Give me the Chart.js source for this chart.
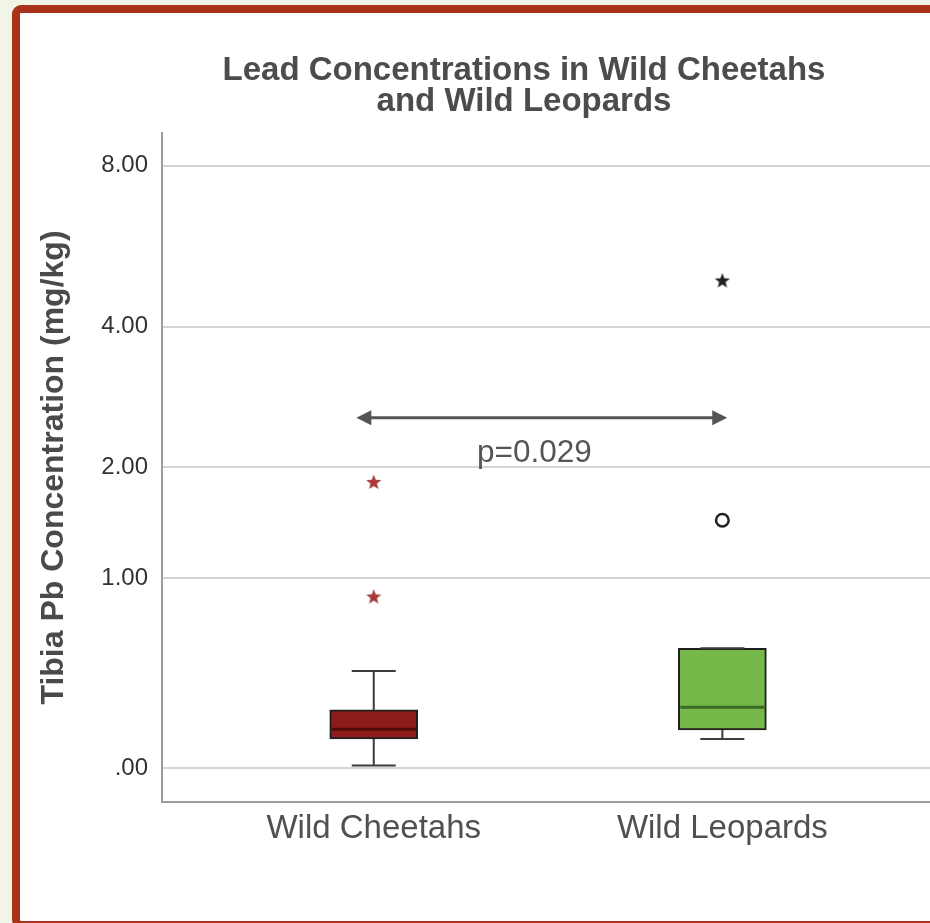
<!DOCTYPE html>
<html lang="en">
<head>
<meta charset="utf-8">
<title>Lead Concentrations in Wild Cheetahs and Wild Leopards</title>
<script src="https://cdn.jsdelivr.net/npm/chart.js@4.4.1/dist/chart.umd.min.js"></script>
<style>
    html, body { margin: 0; padding: 0; overflow: hidden; background: #f3f4e8; }
    #marco { position: absolute; left: 12px; top: 5px; width: 1100px; height: 908px;
             border: 8px solid #a8321a; border-radius: 9px; background: #fff; }
    #myChart { position: absolute; left: 0; top: 0; }
</style>
</head>
<body>
<div id="marco"></div>
<canvas id="myChart" width="1048" height="923"></canvas>
<script>
// Datos en mg/kg
const categorias = ['Wild Cheetahs', 'Wild Leopards'];
const minimos  = [0.010, 0.113];
const cuartil1 = [0.113, 0.150];
const medianas = [0.153, 0.249];
const cuartil3 = [0.237, 0.549];
const maximos  = [0.426, 0.549];
// valores atipicos (estrella = extremo, circulo = atipico)
const extremosCheetah = [0.87, 1.84];
const atipicosLeopard = [1.47];
const extremosLeopard = [4.92];
// eje y
const valoresEje = [0, 1, 2, 4, 8];
const etiquetasEje = ['.00', '1.00', '2.00', '4.00', '8.00'];

// flecha de comparacion
const anotacion = { desde: -0.05, hasta: 1.014, nivel: 2.59, texto: 'p=0.029', textoX: 0.461, textoNivel: 2.05 };

const coloresCaja = ['#8e1c1a', '#77b84a'];
const coloresMediana = ['#4a0b0a', '#3a6a26'];

Chart.defaults.font.family = '"Liberation Sans", Arial, sans-serif';

// escala log10(x+1)
function tr(v) { return Math.log10(v + 1); }

// estrella de 5 puntas para los extremos
function estrella(color) {
    const c = document.createElement('canvas');
    c.width = 18; c.height = 18;
    const g = c.getContext('2d');
    g.beginPath();
    for (let i = 0; i < 10; i++) {
        const r = i % 2 ? 3.4 : 8;
        const a = -Math.PI / 2 + i * Math.PI / 5;
        g.lineTo(9 + r * Math.cos(a), 9.5 + r * Math.sin(a));
    }
    g.closePath();
    g.fillStyle = color;
    g.fill();
    return c;
}

// bigotes y medianas
const bigotes = {
    id: 'bigotes',
    afterDatasetsDraw(chart) {
        const ctx = chart.ctx, x = chart.scales.x, y = chart.scales.y;
        const cajas = chart.getDatasetMeta(0).data;
        ctx.save();
        categorias.forEach(function (c, i) {
            const cx = x.getPixelForValue(i);
            const ancho = cajas[i].width;
            const yMin = y.getPixelForValue(tr(minimos[i]));
            const yQ1 = y.getPixelForValue(tr(cuartil1[i]));
            const yMed = y.getPixelForValue(tr(medianas[i]));
            const yQ3 = y.getPixelForValue(tr(cuartil3[i]));
            const yMax = y.getPixelForValue(tr(maximos[i]));
            ctx.strokeStyle = '#3c3c3c';
            ctx.lineWidth = 2;
            ctx.beginPath();
            ctx.moveTo(cx, yQ1); ctx.lineTo(cx, yMin);
            ctx.moveTo(cx, yQ3); ctx.lineTo(cx, yMax);
            ctx.moveTo(cx - ancho / 4, yMin); ctx.lineTo(cx + ancho / 4, yMin);
            ctx.moveTo(cx - ancho / 4, yMax); ctx.lineTo(cx + ancho / 4, yMax);
            ctx.stroke();
            ctx.strokeStyle = coloresMediana[i];
            ctx.lineWidth = 3;
            ctx.beginPath();
            ctx.moveTo(cx - ancho / 2 + 2, yMed); ctx.lineTo(cx + ancho / 2 - 2, yMed);
            ctx.stroke();
        });
        ctx.restore();
    }
};

// flecha doble con el valor p
const flecha = {
    id: 'flecha',
    afterDraw(chart) {
        const ctx = chart.ctx, x = chart.scales.x, y = chart.scales.y;
        const x1 = x.getPixelForValue(anotacion.desde);
        const x2 = x.getPixelForValue(anotacion.hasta);
        const yf = y.getPixelForValue(tr(anotacion.nivel));
        ctx.save();
        ctx.strokeStyle = '#555';
        ctx.fillStyle = '#555';
        ctx.lineWidth = 3;
        ctx.beginPath();
        ctx.moveTo(x1 + 10, yf); ctx.lineTo(x2 - 10, yf);
        ctx.stroke();
        ctx.beginPath();
        ctx.moveTo(x1, yf); ctx.lineTo(x1 + 15, yf - 7.5); ctx.lineTo(x1 + 15, yf + 7.5); ctx.closePath();
        ctx.moveTo(x2, yf); ctx.lineTo(x2 - 15, yf - 7.5); ctx.lineTo(x2 - 15, yf + 7.5); ctx.closePath();
        ctx.fill();
        ctx.font = '31.5px "Liberation Sans", Arial, sans-serif';
        ctx.fillStyle = '#555';
        ctx.textAlign = 'center';
        ctx.textBaseline = 'alphabetic';
        ctx.fillText(anotacion.texto, x.getPixelForValue(anotacion.textoX), y.getPixelForValue(tr(anotacion.textoNivel)));
        ctx.restore();
    }
};

var ctx = document.getElementById('myChart');
var chart = new Chart(ctx, {
    type: 'bar',
    data: {
        datasets: [{
            type: 'bar',
            data: categorias.map(function (c, i) { return { x: i, y: [tr(cuartil1[i]), tr(cuartil3[i])] }; }),
            backgroundColor: coloresCaja,
            borderColor: '#1f1f1f',
            borderWidth: 2,
            borderSkipped: false,
            barThickness: 88,
            order: 3
        }, {
            type: 'scatter',
            data: extremosCheetah.map(function (v) { return { x: 0, y: tr(v) }; }),
            pointStyle: estrella('#a83a3a'),
            pointRadius: 8,
            order: 1
        }, {
            type: 'scatter',
            data: extremosLeopard.map(function (v) { return { x: 1, y: tr(v) }; }),
            pointStyle: estrella('#222'),
            pointRadius: 8,
            order: 1
        }, {
            type: 'scatter',
            data: atipicosLeopard.map(function (v) { return { x: 1, y: tr(v) }; }),
            pointStyle: 'circle',
            pointRadius: 6.3,
            borderWidth: 2.5,
            borderColor: '#222',
            backgroundColor: '#fff',
            order: 1
        }]
    },
    options: {
        responsive: false,
        animation: false,
        layout: { padding: 0 },
        plugins: {
            legend: { display: false },
            tooltip: { enabled: false },
            title: {
                display: true,
                text: ['Lead Concentrations in Wild Cheetahs', 'and Wild Leopards'],
                color: '#4b4c4e',
                font: { size: 33, weight: 'bold', lineHeight: 0.9406 },
                padding: { top: 55.1, bottom: 15.8 }
            }
        },
        scales: {
            x: {
                type: 'linear',
                min: -0.6074,
                max: 1.9083,
                offset: false,
                grid: { display: false, drawTicks: false },
                border: { color: '#9c9c9c', width: 2 },
                afterBuildTicks: function (s) { s.ticks = categorias.map(function (c, i) { return { value: i }; }); },
                afterFit: function (s) { s.height = 121; },
                ticks: {
                    callback: function (v, i) { return categorias[i]; },
                    padding: 7,
                    color: '#505050',
                    font: { size: 33 },
                    maxRotation: 0,
                    autoSkip: false
                }
            },
            y: {
                type: 'linear',
                min: -0.0534,
                max: 1.006,
                beginAtZero: false,
                grid: { color: '#d4d4d4', lineWidth: 2, drawTicks: false },
                border: { color: '#9c9c9c', width: 2 },
                afterBuildTicks: function (s) { s.ticks = valoresEje.map(function (v) { return { value: tr(v) }; }); },
                afterFit: function (s) { s.width = 162; },
                ticks: {
                    callback: function (v, i) { return etiquetasEje[i]; },
                    padding: 14,
                    color: '#333',
                    font: { size: 24 }
                },
                title: {
                    display: true,
                    text: 'Tibia Pb Concentration (mg/kg)',
                    color: '#4a4a4a',
                    font: { size: 32, weight: 'bold' },
                    padding: { top: 35, bottom: 0 }
                }
            }
        }
    },
    plugins: [bigotes, flecha]
});
</script>
</body>
</html>
